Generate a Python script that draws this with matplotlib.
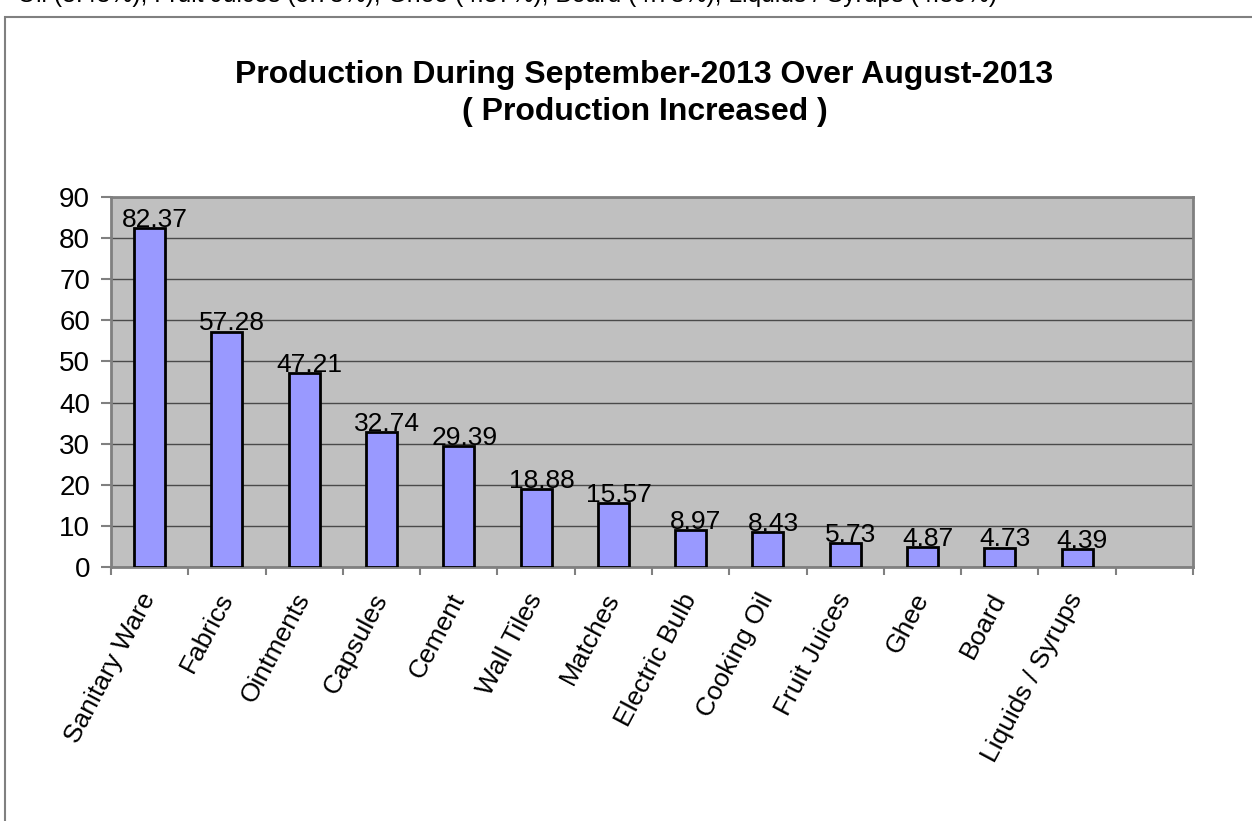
import matplotlib
matplotlib.use("Agg")
import matplotlib.pyplot as plt
from matplotlib.patches import Rectangle

plt.rcParams['font.family'] = ['Liberation Sans', 'DejaVu Sans']

categories = ["Sanitary Ware", "Fabrics", "Ointments", "Capsules", "Cement",
              "Wall Tiles", "Matches", "Electric Bulb", "Cooking Oil",
              "Fruit Juices", "Ghee", "Board", "Liquids / Syrups"]
values = [82.37, 57.28, 47.21, 32.74, 29.39, 18.88, 15.57, 8.97, 8.43,
          5.73, 4.87, 4.73, 4.39]
yticks = [0, 10, 20, 30, 40, 50, 60, 70, 80, 90]
top_note = "Oil (8.43%), Fruit Juices (5.73%), Ghee (4.87%), Board (4.73%), Liquids / Syrups (4.39%)"
title1 = "Production During September-2013 Over August-2013"
title2 = "( Production Increased )"

W, H = 1252, 821
fig = plt.figure(figsize=(W / 100, H / 100), dpi=100)

# outer chart frame, runs off the right and bottom edges
fig.patches.append(Rectangle((5 / W, -0.1), 1.2, 1 - 17 / H + 0.1,
                             transform=fig.transFigure, fill=False,
                             edgecolor='#808080', linewidth=1.5))

# line above the chart, mostly cut off by the top edge
fig.text(17 / W, 1 - 2 / H, top_note, fontsize=17.8, va='baseline', ha='left')

cx = 0.5 * (237 + 1052) / W
fig.text(cx, 1 - 83 / H, title1, fontsize=23, fontweight='bold',
         ha='center', va='baseline')
fig.text(cx, 1 - 120 / H, title2, fontsize=23, fontweight='bold',
         ha='center', va='baseline')

ax = fig.add_axes([111 / W, 1 - 567 / H, 1082 / W, 370 / H])
ax.set_facecolor('#C0C0C0')

x = list(range(len(categories)))
ax.bar(x, values, width=0.4, color='#9999FF', edgecolor='black',
       linewidth=2, zorder=3)

for xi, v in zip(x, values):
    ax.text(xi + 0.07, v + 0.3, f"{v:.2f}", ha='center', va='baseline',
            fontsize=19, zorder=4)

ax.set_xlim(-0.5, 13.5)
ax.set_ylim(0, 90)
ax.set_yticks(yticks)
ax.yaxis.grid(True, color='#4a4a4a', linewidth=1)
ax.set_axisbelow(True)

ax.set_xticks(x)
ax.set_xticklabels(categories, rotation=62, ha='right', va='center',
                   rotation_mode='anchor', fontsize=19)
ax.set_xticks([i - 0.5 for i in range(15)], minor=True)
ax.tick_params(axis='x', which='major', length=0, pad=20)
ax.tick_params(axis='x', which='minor', length=6, color='#808080', width=1.5)
ax.tick_params(axis='y', length=7, color='#808080', width=1.5, labelsize=20, pad=8)

for s in ax.spines.values():
    s.set_color('#808080')
    s.set_linewidth(2)

fig.savefig("out.png", dpi=100)
